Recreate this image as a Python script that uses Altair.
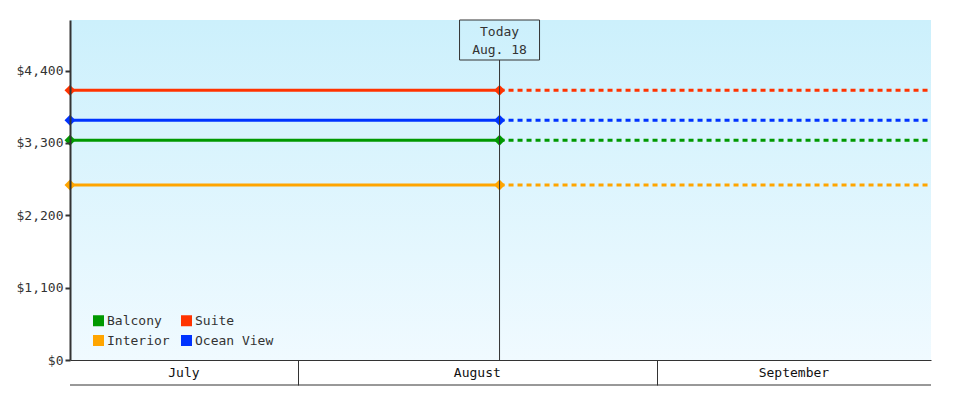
import altair as alt
import pandas as pd

# ---- data ----
SERIES = ["Balcony", "Suite", "Interior", "Ocean View"]
COLORS = ["#009900", "#ff3300", "#ffa500", "#0033ff"]
PRICES = [3340, 4100, 2660, 3645]

START = "2024-07-12T08:00:00"
TODAY = "2024-08-18T10:00:00"
END = "2024-09-24T16:00:00"
TODAY_LABEL = "Today\nAug. 18"

Y_MAX = 5170
Y_TICKS = [0, 1100, 2200, 3300, 4400]

MONTHS = ["July", "August", "September"]
MONTH_STARTS = ["2024-07-01", "2024-08-01", "2024-09-01"]
MONTH_ENDS = ["2024-08-01", "2024-09-01", "2024-10-01"]

FONT = "DejaVu Sans Mono"
INK = "#333333"

# ---- tables ----
solid = pd.DataFrame(
    [{"series": s, "date": d, "price": p} for s, p in zip(SERIES, PRICES) for d in (START, TODAY)]
)
dashed = pd.DataFrame(
    [{"series": s, "date": d, "price": p} for s, p in zip(SERIES, PRICES) for d in (TODAY, END)]
)
bg = pd.DataFrame([{"start": START, "end": END, "lo": 0, "hi": Y_MAX}])
today_df = pd.DataFrame([{"date": TODAY, "label": TODAY_LABEL, "zero": 0}])

lo, hi = pd.Timestamp(START), pd.Timestamp(END)
mids = []
for s, e in zip(MONTH_STARTS, MONTH_ENDS):
    a = max(pd.Timestamp(s), lo)
    b = min(pd.Timestamp(e), hi)
    mids.append((a + (b - a) / 2).isoformat())
months_df = pd.DataFrame({"month": MONTHS, "mid": mids})
band_df = pd.DataFrame([{"start": START, "end": END}])

sep_values = [
    alt.DateTime(year=pd.Timestamp(m).year, month=pd.Timestamp(m).month, date=1)
    for m in MONTH_STARTS
    if lo < pd.Timestamp(m) < hi
]

xscale = alt.Scale(domain=[START, END])
yscale = alt.Scale(domain=[0, Y_MAX], nice=False)
cscale = alt.Scale(domain=SERIES, range=COLORS)

W, H = 861, 340

gradient = alt.LinearGradient(
    gradient="linear",
    stops=[
        alt.GradientStop(color="#ccf0fc", offset=0),
        alt.GradientStop(color="#f0faff", offset=1),
    ],
    x1=0, x2=0, y1=0, y2=1,
)

background = alt.Chart(bg).mark_rect(color=gradient).encode(
    x=alt.X(
        "start:T",
        scale=xscale,
        axis=alt.Axis(
            values=sep_values,
            labels=False,
            tickSize=25,
            tickColor=INK,
            tickWidth=1,
            domainColor=INK,
            domainWidth=1,
            grid=False,
            title=None,
        ),
    ),
    x2="end:T",
    y=alt.Y(
        "lo:Q",
        scale=yscale,
        axis=alt.Axis(
            values=Y_TICKS,
            format="$,.0f",
            labelFont=FONT,
            labelFontSize=13,
            labelColor=INK,
            labelPadding=2,
            tickSize=5,
            tickWidth=2,
            tickColor=INK,
            domainColor=INK,
            domainWidth=2,
            grid=False,
            title=None,
            zindex=1,
        ),
    ),
    y2="hi:Q",
)

legend = alt.Legend(
    title=None,
    orient="none",
    direction="horizontal",
    legendX=22,
    legendY=294,
    columns=2,
    symbolType="square",
    symbolSize=121,
    symbolStrokeWidth=0,
    labelFont=FONT,
    labelFontSize=13,
    labelColor=INK,
    labelOffset=2,
    columnPadding=10,
    rowPadding=6,
    padding=0,
)

solid_lines = alt.Chart(solid).mark_line(strokeWidth=3, clip=False).encode(
    x=alt.X("date:T", scale=xscale),
    y=alt.Y("price:Q", scale=yscale),
    color=alt.Color("series:N", scale=cscale, legend=legend, sort=SERIES),
)

dashed_lines = alt.Chart(dashed).mark_line(strokeWidth=3, strokeDash=[5, 4], clip=False).encode(
    x=alt.X("date:T", scale=xscale),
    y=alt.Y("price:Q", scale=yscale),
    color=alt.Color("series:N", scale=cscale, legend=legend, sort=SERIES),
)

points = alt.Chart(solid).mark_point(shape="diamond", filled=True, size=120, opacity=1, clip=False).encode(
    x=alt.X("date:T", scale=xscale),
    y=alt.Y("price:Q", scale=yscale),
    color=alt.Color("series:N", scale=cscale, legend=legend, sort=SERIES),
)

today_rule = alt.Chart(today_df).mark_rule(color=INK, strokeWidth=1).encode(
    x=alt.X("date:T", scale=xscale),
    y=alt.Y("zero:Q", scale=yscale),
    y2=alt.value(40),
)

today_box = alt.Chart(today_df).mark_rect(
    width=80, height=40, fill=None, fillOpacity=0, stroke=INK, strokeWidth=1
).encode(
    x=alt.X("date:T", scale=xscale),
    y=alt.value(20),
)

today_text = alt.Chart(today_df).mark_text(
    font=FONT, fontSize=13, color=INK, lineBreak="\n", lineHeight=18, baseline="middle", align="center"
).encode(
    x=alt.X("date:T", scale=xscale),
    y=alt.value(12),
    text="label:N",
)

month_text = alt.Chart(months_df).mark_text(
    font=FONT, fontSize=13, color="#111111", baseline="middle", align="center"
).encode(
    x=alt.X("mid:T", scale=xscale),
    y=alt.value(H + 13),
    text="month:N",
)

band_bottom = alt.Chart(band_df).mark_rule(color=INK, strokeWidth=1).encode(
    x=alt.X("start:T", scale=xscale),
    x2="end:T",
    y=alt.value(H + 25),
)

chart = alt.layer(
    background, solid_lines, dashed_lines, points, today_rule, today_box, today_text, month_text, band_bottom
).properties(
    width=W,
    height=H,
    autosize=alt.AutoSizeParams(type="none"),
    padding={"left": 62, "top": 12, "right": 41, "bottom": 32},
    background="white",
).configure_view(stroke=None)

chart.save("out.html", embed_options={"renderer": "svg", "actions": False})
